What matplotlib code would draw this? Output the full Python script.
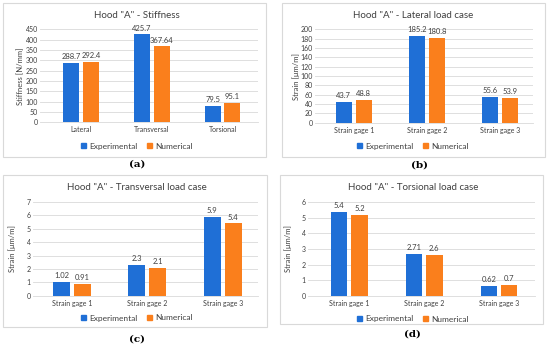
import matplotlib
matplotlib.use("Agg")
import matplotlib.pyplot as plt
from matplotlib.patches import Rectangle
import numpy as np

plt.rcParams['font.family'] = ['Lato', 'DejaVu Sans']

# ---- data ----
cats_a = ["Lateral", "Transversal", "Torsional"]
exp_a = [288.7, 425.7, 79.5]
num_a = [292.4, 367.64, 95.1]
lab_exp_a = ["288.7", "425.7", "79.5"]
lab_num_a = ["292.4", "367.64", "95.1"]

gages = ["Strain gage 1", "Strain gage 2", "Strain gage 3"]
exp_b = [43.7, 185.2, 55.6]
num_b = [48.8, 180.8, 53.9]
lab_exp_b = ["43.7", "185.2", "55.6"]
lab_num_b = ["48.8", "180.8", "53.9"]

exp_c = [1.02, 2.3, 5.9]
num_c = [0.91, 2.1, 5.4]
lab_exp_c = ["1.02", "2.3", "5.9"]
lab_num_c = ["0.91", "2.1", "5.4"]

exp_d = [5.4, 2.71, 0.62]
num_d = [5.2, 2.6, 0.7]
lab_exp_d = ["5.4", "2.71", "0.62"]
lab_num_d = ["5.2", "2.6", "0.7"]

BLUE = "#1F6FD6"
ORANGE = "#FA7F1C"
GRID = "#D9D9D9"
TXT = "#404040"

W, H = 550, 347
fig = plt.figure(figsize=(5.5, 3.47), dpi=100)
fig.patch.set_facecolor("white")


def frame(x0, y0, x1, y1):
    fig.patches.append(Rectangle((x0 / W, 1 - y1 / H), (x1 - x0) / W, (y1 - y0) / H,
                                 transform=fig.transFigure, fill=False,
                                 edgecolor="#D9D9D9", linewidth=0.8))


def panel(px0, px1, ytop, ybot, xlim, cats, e, n, le, ln, ymax, ystep, ylabel,
          title, title_xy, legend_y, caption, cap_xy, ylabel_x, bw):
    ax = fig.add_axes([px0 / W, 1 - ybot / H, (px1 - px0) / W, (ybot - ytop) / H])
    x = np.arange(len(cats))
    off = bw / 2 + 0.026
    b1 = ax.bar(x - off, e, width=bw, color=BLUE, zorder=3)
    b2 = ax.bar(x + off, n, width=bw, color=ORANGE, zorder=3)
    for rect, s in zip(b1, le):
        ax.text(rect.get_x() + rect.get_width() / 2, rect.get_height() + ymax * 0.03, s,
                ha="center", va="bottom", fontsize=5.5, color=TXT)
    for rect, s in zip(b2, ln):
        ax.text(rect.get_x() + rect.get_width() / 2, rect.get_height() + ymax * 0.03, s,
                ha="center", va="bottom", fontsize=5.5, color=TXT)
    ax.set_xlim(*xlim)
    ax.set_ylim(0, ymax)
    ax.set_yticks(np.arange(0, ymax + ystep / 2, ystep))
    ax.yaxis.grid(True, color=GRID, linewidth=0.6, zorder=0)
    ax.set_axisbelow(True)
    for s in ["top", "right", "left"]:
        ax.spines[s].set_visible(False)
    ax.spines["bottom"].set_color(GRID)
    ax.spines["bottom"].set_linewidth(0.6)
    ax.set_xticks(x)
    ax.set_xticklabels(cats)
    ax.tick_params(axis="x", length=0, labelsize=5, colors=TXT, pad=3)
    ax.tick_params(axis="y", length=0, labelsize=5, colors=TXT, pad=1.5)
    ax.set_facecolor("white")
    fig.text(ylabel_x / W, 1 - (ytop + ybot) / 2 / H, ylabel, rotation=90,
             ha="center", va="center", fontsize=5.5, color=TXT)
    fig.text(title_xy[0] / W, 1 - title_xy[1] / H, title, ha="center", va="center",
             fontsize=7, color=TXT)
    handles = [Rectangle((0, 0), 1, 1, color=BLUE), Rectangle((0, 0), 1, 1, color=ORANGE)]
    fig.legend(handles, ["Experimental", "Numerical"], loc="center",
               bbox_to_anchor=(title_xy[0] / W, 1 - legend_y / H), ncol=2, frameon=False,
               fontsize=6, handlelength=0.6, handleheight=0.6, handletextpad=0.4,
               columnspacing=1.2, labelcolor=TXT)
    fig.text(cap_xy[0] / W, 1 - cap_xy[1] / H, caption, ha="center", va="center",
             fontsize=7.5, fontweight="bold", family="DejaVu Serif", color="black")
    return ax


# frames
frame(3, 3, 266, 157)
frame(282, 3, 545, 157)
frame(3, 175, 267, 327)
frame(280, 175, 543, 324)

panel(40, 258, 29.3, 122.3, (-0.58, 2.5), cats_a, exp_a, num_a, lab_exp_a, lab_num_a,
      450, 50, "Stiffness [N/mm]", 'Hood "A" - Stiffness', (137, 16), 146,
      "(a)", (137, 164), 21, 0.226)

panel(315, 533, 29.3, 122.7, (-0.53, 2.45), gages, exp_b, num_b, lab_exp_b, lab_num_b,
      200, 20, "Strain [μm/m]", 'Hood "A" - Lateral load case', (413, 16), 146,
      "(b)", (419, 165), 296, 0.22)

panel(33, 258, 202, 295.7, (-0.52, 2.47), gages, exp_c, num_c, lab_exp_c, lab_num_c,
      7, 1, "Strain [μm/m]", 'Hood "A" - Transversal load case', (137, 187), 318,
      "(c)", (137, 339), 12, 0.225)

panel(308, 535, 202.3, 295.7, (-0.55, 2.48), gages, exp_d, num_d, lab_exp_d, lab_num_d,
      6, 1, "Strain [μm/m]", 'Hood "A" - Torsional load case', (413, 188), 319,
      "(d)", (412, 334), 288, 0.22)

fig.savefig("out.png", dpi=100, facecolor="white")
